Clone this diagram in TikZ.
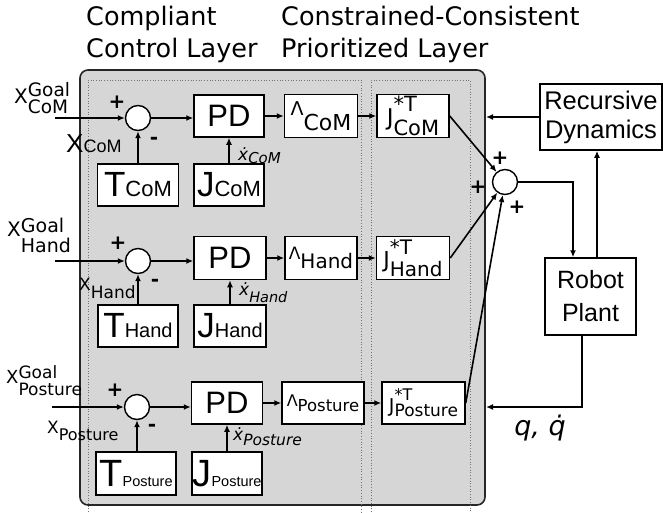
\documentclass[tikz,border=0pt]{standalone}
\usepackage{fontspec}
\setmainfont{DejaVu Sans}
\newfontfamily\arialf{Liberation Sans}
\usetikzlibrary{arrows.meta}
\definecolor{bg}{RGB}{214,214,214}
\newcommand\fs[1]{\fontsize{#1}{#1}\selectfont}
\newcommand\SupSub[5]{#1\makebox[0pt][l]{\raisebox{#4}{#2}}\raisebox{-#5}{#3}}
\begin{document}
\begin{tikzpicture}[x=1pt,y=-1pt,
 box/.style={draw, fill=white, line width=1.5pt, inner sep=0pt, align=center},
 sumc/.style={circle, draw, fill=white, minimum size=25pt, inner sep=0pt, line width=1.4pt},
 arr/.style={-{Latex[length=7pt,width=6pt]}, line width=1.6pt},
 dotl/.style={line width=0.9pt, draw=black!55, dash pattern=on 0.9pt off 1.8pt},
 lbl/.style={inner sep=0pt, anchor=base west},
 sgn/.style={inner sep=0pt, font=\fs{20}\bfseries}]
\useasboundingbox (0,0) rectangle (663,512);
\fill[white] (0,0) rectangle (663,512);
% titles
\node[lbl] (tA) at (86,25) {\fs{25.5}Compliant};
\node[lbl] (tB) at (86,57) {\fs{25.5}Control Layer};
\node[lbl] (tC) at (281,25) {\fs{25.5}Constrained-Consistent};
\node[lbl] (tD) at (281,57) {\fs{25.5}Prioritized Layer};
% gray panel
\draw[fill=bg, draw=black!85, line width=1.6pt, rounded corners=8pt] (80,70) rectangle (485,505);
\coordinate (gE) at (486,117);
\coordinate (gQ) at (486,407);
\draw[dotl] (88,512) -- (88,80) -- (361,80) -- (361,512);
\draw[dotl] (371,512) -- (371,80) -- (470,80) -- (470,512);
% ---------- row 1
\node[sumc] (s1) at (138,118) {};
\node[box, minimum width=70pt, minimum height=42pt] (pd1) at (229,116) {\arialf\fs{31}PD};
\node[box, minimum width=73pt, minimum height=43pt] (l1) at (321,116) {\fs{19}Λ\raisebox{-15pt}{\fs{22}CoM}};
\node[box, minimum width=72pt, minimum height=43pt] (j1) at (413,116) {\SupSub{\fs{23}J}{\fs{21}*T}{\fs{21}CoM}{14pt}{10pt}};
\node[box, minimum width=81pt, minimum height=42pt] (t1) at (138,185) {\arialf\fs{35}T\fs{22}CoM};
\node[box, minimum width=70pt, minimum height=42pt] (jc1) at (229,185) {\arialf\fs{35}J\fs{22}CoM};
\coordinate (in1) at (55,118);
\draw[arr] (in1) -- (s1);
\draw[arr] (s1.east) -- (s1.east -| pd1.west);
\draw[arr] (pd1) -- (l1);
\draw[arr] (l1) -- (j1);
\draw[arr] (t1) -- (s1);
\draw[arr] (jc1) -- (pd1);
\node[lbl] (g1) at (14,103) {\SupSub{\fs{20}X}{\fs{18.5}Goal}{\fs{18.5}CoM}{7pt}{10pt}};
\node[lbl] (x1) at (66,152) {\arialf\fs{26}X\fs{18}CoM};
\node[lbl] (d1) at (238,160) {\itshape\fs{17}\.{x}\raisebox{-3pt}{\fs{15}CoM}};
\node[sgn] (p1) at (117,102) {+};
\node[sgn] (m1) at (154,141) {-};
% ---------- row 2
\node[sumc] (s2) at (138,261) {};
\node[box, minimum width=72pt, minimum height=43pt] (pd2) at (230,258) {\arialf\fs{31}PD};
\node[box, minimum width=72pt, minimum height=43pt] (l2) at (321,258) {\fs{17}Λ\raisebox{-9pt}{\fs{20}Hand}};
\node[box, minimum width=73pt, minimum height=43pt] (j2) at (413,258) {\SupSub{\fs{22}J}{\fs{20}*T}{\fs{20}Hand}{13pt}{9pt}};
\node[box, minimum width=80pt, minimum height=42pt] (t2) at (138,326) {\arialf\fs{35}T\fs{20}Hand};
\node[box, minimum width=72pt, minimum height=42pt] (jc2) at (230,326) {\arialf\fs{35}J\fs{20}Hand};
\coordinate (in2) at (55,261);
\draw[arr] (in2) -- (s2);
\draw[arr] (s2.east) -- (s2.east -| pd2.west);
\draw[arr] (pd2) -- (l2);
\draw[arr] (l2) -- (j2);
\draw[arr] (t2) -- (s2);
\draw[arr] (jc2) -- (pd2);
\node[lbl] (g2) at (7,236) {\SupSub{\fs{20}X}{\fs{19}Goal}{\fs{19}Hand}{4pt}{16pt}};
\node[lbl] (x2) at (79,290) {\fs{17}X\raisebox{-8pt}{Hand}};
\node[lbl] (d2) at (239,295) {\itshape\fs{17}\.{x}\raisebox{-7pt}{\fs{14.5}Hand}};
\node[sgn] (p2) at (118,243) {+};
\node[sgn] (m2) at (155,283) {-};
% ---------- row 3
\node[sumc] (s3) at (137,407) {};
\node[box, minimum width=71pt, minimum height=42pt] (pd3) at (227,403) {\arialf\fs{31}PD};
\node[box, minimum width=82pt, minimum height=42pt] (l3) at (323,403) {\fs{16}Λ\raisebox{-5pt}{\fs{16.5}Posture}};
\node[box, minimum width=83pt, minimum height=42pt] (j3) at (423.5,403) {\SupSub{\fs{19}J}{\fs{16}*T}{\fs{17}Posture}{12pt}{4pt}};
\node[box, minimum width=80pt, minimum height=43pt] (t3) at (136,473.5) {\arialf\fs{38}T\fs{14.5}Posture};
\node[box, minimum width=70pt, minimum height=43pt] (jc3) at (227,473.5) {\arialf\fs{38}J\fs{14.5}Posture};
\coordinate (in3) at (52,407);
\draw[arr] (in3) -- (s3);
\draw[arr] (s3.east) -- (s3.east -| pd3.west);
\draw[arr] (pd3) -- (l3);
\draw[arr] (l3) -- (j3);
\draw[arr] (t3.north -| s3) -- (s3);
\draw[arr] (jc3) -- (pd3);
\node[lbl] (g3) at (6,383) {\SupSub{\fs{18}X}{\fs{17}Goal}{\fs{17}Posture}{5pt}{12pt}};
\node[lbl] (x3) at (47,433) {\fs{17}X\raisebox{-7pt}{\fs{16}Posture}};
\node[lbl] (d3) at (233,440) {\itshape\fs{17}\.{x}\raisebox{-5pt}{\fs{15.5}Posture}};
\node[sgn] (p3) at (115,390) {+};
\node[sgn] (m3) at (152,428) {-};
% ---------- right side
\node[sumc] (S) at (505,182) {};
\node[box, minimum width=122pt, minimum height=66pt, font=\arialf\fontsize{25.5}{29}\selectfont] (rd) at (601,117) {Recursive\\Dynamics};
\node[box, minimum width=91pt, minimum height=77pt, font=\arialf\fontsize{25}{33}\selectfont] (rp) at (590.5,296.5) {Robot\\Plant};
\node[sgn] (pa) at (500,158) {+};
\node[sgn] (pb) at (478,187) {+};
\node[sgn] (pc) at (517,207) {+};
\node (q) at (540,428) {\itshape\fs{27}q, \.{q}};
\draw[arr] (j1.east) -- (S);
\draw[arr] (j2.east) -- (S);
\draw[arr] (j3.east) -- (S);
\draw[arr] (S.east) -| ([xshift=-17.5pt]rp.north);
\draw[arr] ([xshift=6.5pt]rp.north) -- ([xshift=6.5pt]rp.north |- rd.south);
\draw[arr] (rd.west) -- (rd.west -| gE);
\draw[arr] ([xshift=-8.5pt]rp.south) |- (gQ);
\end{tikzpicture}
\end{document}
